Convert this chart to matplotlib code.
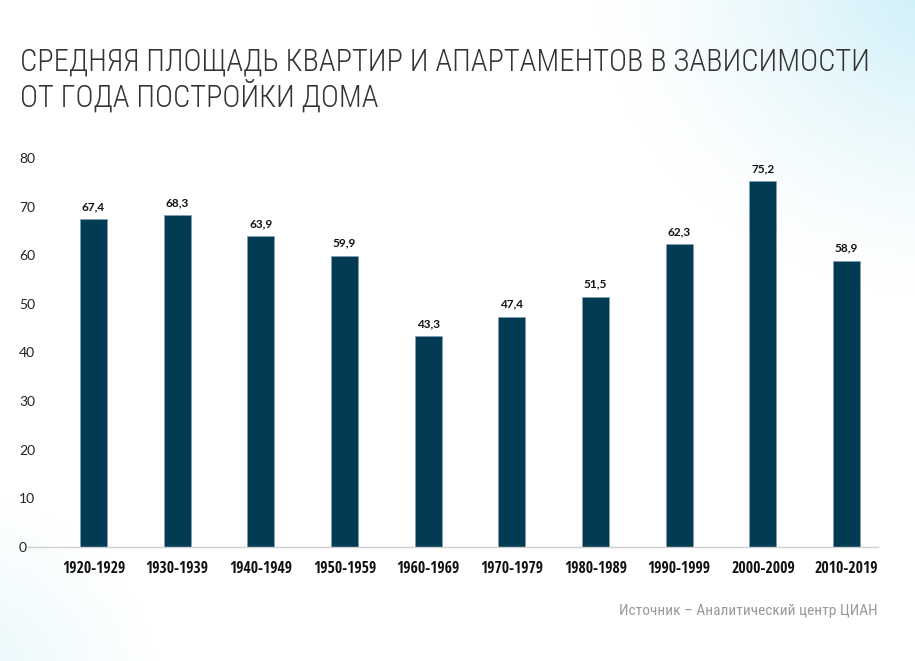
import numpy as np
import matplotlib.pyplot as plt
from matplotlib import font_manager

decades = ["1920-1929", "1930-1939", "1940-1949", "1950-1959", "1960-1969",
           "1970-1979", "1980-1989", "1990-1999", "2000-2009", "2010-2019"]
area = [67.4, 68.3, 63.9, 59.9, 43.3, 47.4, 51.5, 62.3, 75.2, 58.9]
labels = ["67,4", "68,3", "63,9", "59,9", "43,3", "47,4", "51,5", "62,3", "75,2", "58,9"]
yticks = [0, 10, 20, 30, 40, 50, 60, 70, 80]

title = "СРЕДНЯЯ ПЛОЩАДЬ КВАРТИР И АПАРТАМЕНТОВ В ЗАВИСИМОСТИ\nОТ ГОДА ПОСТРОЙКИ ДОМА"
source = "Источник – Аналитический центр ЦИАН"

names = {f.name for f in font_manager.fontManager.ttflist}


def pick(*cands):
    for c in cands:
        if c in names:
            return c
    return "DejaVu Sans"


f_title = pick("Roboto Condensed", "IBM Plex Sans Condensed", "PT Sans Narrow")
f_xtick = pick("Open Sans Condensed", "PT Sans Narrow", "Roboto Condensed")
f_num = pick("Lato", "Noto Sans")

W, H = 915, 661
fig = plt.figure(figsize=(W / 100, H / 100), dpi=100)

# soft light-blue glow in the corners
bg = fig.add_axes([0, 0, 1, 1], zorder=-10)
yy, xx = np.mgrid[0:1:200j, 0:1:280j]
tr = np.clip(1 - np.hypot((xx - 1.05) / 0.4, (yy - 1.05) / 0.5), 0, 1) ** 1.3
bl = np.clip(1 - np.hypot((xx + 0.05) / 0.22, (yy + 0.05) / 0.3), 0, 1) * 0.45
a = np.clip(tr + bl, 0, 1)[..., None]
img = (1 - a) * np.array([1, 1, 1]) + a * np.array([0.78, 0.93, 0.97])
bg.imshow(img, extent=[0, 1, 0, 1], origin="lower", aspect="auto")
bg.axis("off")

ax = fig.add_axes([28 / W, 1 - 547 / H, 850 / W, 389 / H])
ax.patch.set_alpha(0)
x = np.arange(len(decades))
ax.bar(x, area, width=0.32, color="#033a54", edgecolor="#7fa3b5", linewidth=0.4)
for xi, v, lab in zip(x, area, labels):
    ax.annotate(lab, (xi, v), xytext=(0, 5), textcoords="offset points",
                ha="center", va="bottom", fontsize=8.5, fontweight="bold",
                color="#111111", family=f_num)

ax.set_xlim(-0.783, 9.376)
ax.set_ylim(0, 80)
ax.set_yticks(yticks)
ax.set_yticklabels([str(t) for t in yticks], fontsize=10, color="#222222",
                   family=f_num, ha="left")
ax.set_xticks(x)
ax.set_xticklabels(decades, fontsize=10.5, fontweight="semibold", color="#111111", family=f_xtick)
ax.tick_params(axis="y", length=0, pad=6.5)
ax.tick_params(axis="x", length=0, pad=10)
for s in ["top", "right", "left"]:
    ax.spines[s].set_visible(False)
ax.spines["bottom"].set_color("#d0d0d0")
ax.spines["bottom"].set_linewidth(1)

t = fig.text(20 / W, 1 - 47 / H, title, ha="left", va="top", fontsize=21,
             color="#333333", family=f_title, fontweight="light", linespacing=1.12)
s = fig.text(878 / W, 1 - 611 / H, source, ha="right", va="center", fontsize=10.5,
             color="#999999", family=f_title)

# scale texts so their widths match the reference
r = fig.canvas.get_renderer()
t.set_fontsize(21 * 850 / t.get_window_extent(r).width)
s.set_fontsize(10.5 * 260 / s.get_window_extent(r).width)
lab0 = ax.get_xticklabels()[0]
xs = 10.5 * 64 / lab0.get_window_extent(r).width
for lab in ax.get_xticklabels():
    lab.set_fontsize(xs)

fig.savefig("out.png", dpi=100)
